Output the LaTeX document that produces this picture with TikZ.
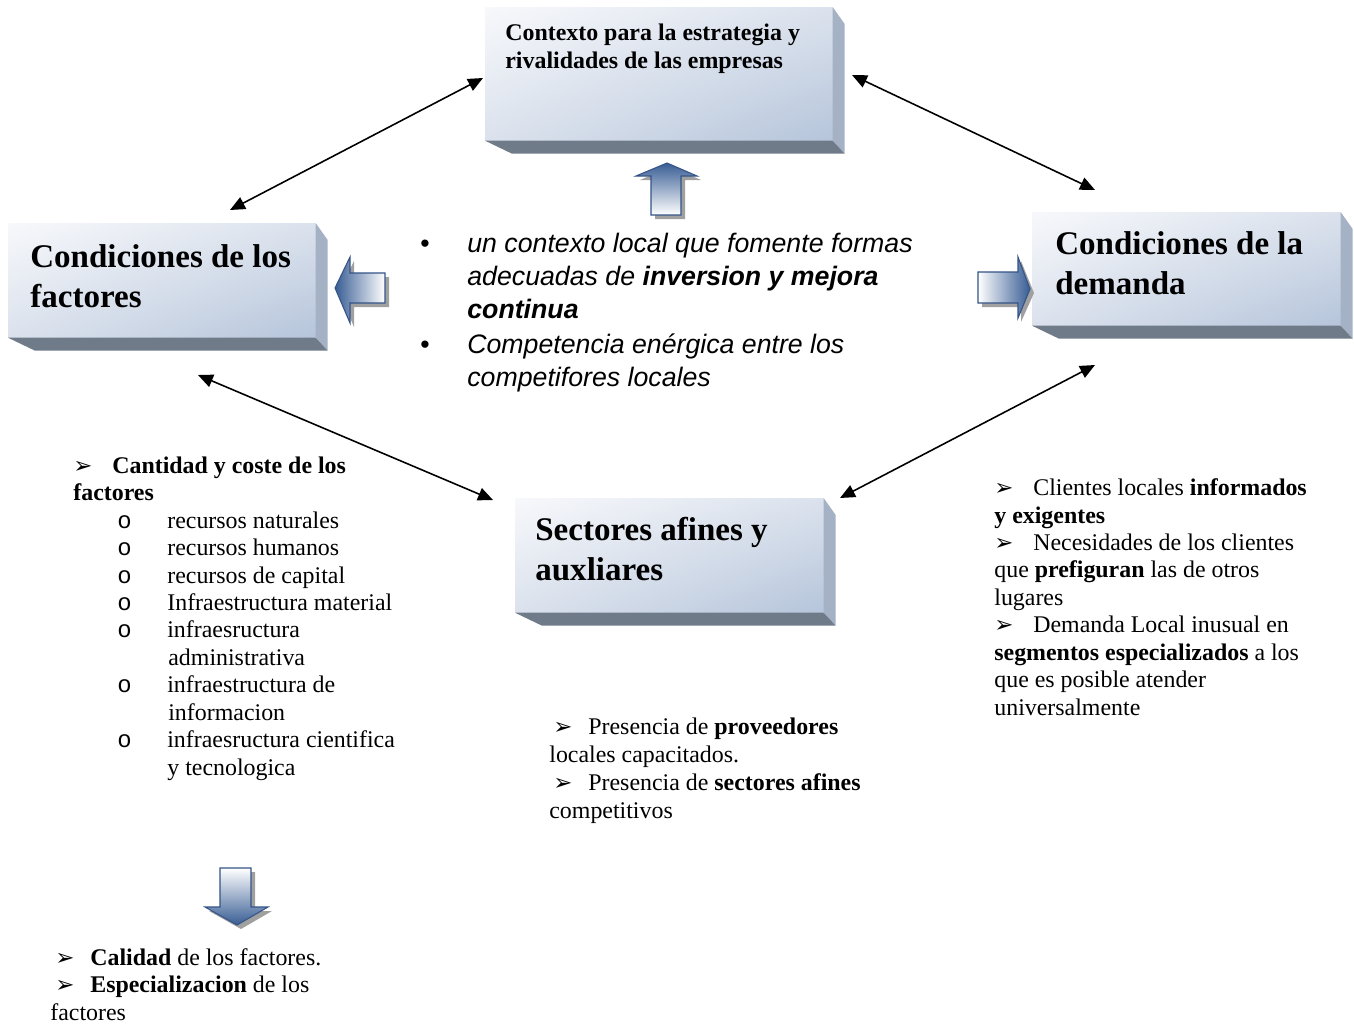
\documentclass[tikz,border=0pt]{standalone}
\usepackage{fontspec}
\setmainfont{Liberation Serif}
\setsansfont{Liberation Sans}
\setmonofont{Liberation Mono}
\newfontfamily\dejavu{DejaVu Sans}
\usetikzlibrary{arrows.meta, calc, shadings}

\definecolor{FaceLight}{RGB}{247,248,251}
\definecolor{FaceMid}{RGB}{219,226,237}
\definecolor{FaceDark}{RGB}{182,197,219}
\definecolor{SideGrey}{RGB}{165,177,196}
\definecolor{BaseGrey}{RGB}{111,123,137}
\definecolor{ArrowBlue}{RGB}{56,93,148}
\definecolor{EdgeBlue}{RGB}{52,84,135}
\definecolor{ShadowGrey}{RGB}{160,160,160}

\newlength{\pxu}
\setlength{\pxu}{0.02cm}
\newcommand{\arr}{{\dejavu\fontsize{13pt}{13pt}\selectfont ➢}}

\begin{document}
\begin{tikzpicture}[x=0.02cm, y=-0.02cm,
        facebox/.style={anchor=north west, inner sep=0pt, upper left=FaceLight, upper right=FaceMid, lower left=FaceMid, lower right=FaceDark},
        boxtitle/.style={anchor=base west, inner sep=0pt, align=left, font=\bfseries\fontsize{18.8pt}{22.4pt}\selectfont},
        smalltitle/.style={anchor=base west, inner sep=0pt, align=left, font=\bfseries\fontsize{13.6pt}{15.9pt}\selectfont},
        bodytext/.style={anchor=base west, inner sep=0pt, align=left, font=\fontsize{13.6pt}{15.6pt}\selectfont},
        slanttext/.style={anchor=base west, inner sep=0pt, align=left, font=\sffamily\itshape\fontsize{15.2pt}{18.7pt}\selectfont},
        link/.style={{Triangle[length=8.5pt,width=7.4pt]}-{Triangle[length=8.5pt,width=7.4pt]}, line width=0.9pt},
        blockarrow/.style={draw=EdgeBlue, line width=0.6pt},
        blockshadow/.style={fill=ShadowGrey}
    ]
    \fill[white] (0,0) rectangle (1354,1028);
    \useasboundingbox (0,0) rectangle (1354,1028);

    % boxes
    \node[facebox, minimum width=6.94cm, minimum height=2.66cm] (ctxbox) at (485,7) {};
    \node[facebox, minimum width=6.14cm, minimum height=2.28cm] (facbox) at (8,223) {};
    \node[facebox, minimum width=6.16cm, minimum height=2.26cm] (dembox) at (1032,212) {};
    \node[facebox, minimum width=6.16cm, minimum height=2.28cm] (secbox) at (515,498) {};
    \foreach \b in {ctxbox,facbox,dembox,secbox}{
        \fill[SideGrey] (\b.north east) -- ++(12,17) -- ($(\b.south east)+(12,13)$) -- (\b.south east) -- cycle;
        \fill[BaseGrey] (\b.south west) -- (\b.south east) -- ($(\b.south east)+(12,13)$) -- ($(\b.south west)+(27,13)$) -- cycle;
    }

    % titles (placed at the baseline of their last line)
    \node[smalltitle] (ctx) at (505,68) {Contexto para la estrategia y\\rivalidades de las empresas};
    \node[boxtitle] (fac) at (30,307) {Condiciones de los\\factores};
    \node[boxtitle] (dem) at (1055,294) {Condiciones de la\\demanda};
    \node[boxtitle] (sec) at (535,580) {Sectores afines y\\auxliares};

    % two-headed links
    \coordinate (l1a) at (230,210);
    \coordinate (l1b) at (483,78);
    \coordinate (l2a) at (852,75);
    \coordinate (l2b) at (1095,190);
    \coordinate (l3a) at (198,375);
    \coordinate (l3b) at (493,500);
    \coordinate (l4a) at (1095,365);
    \coordinate (l4b) at (840,498);
    \draw[link] (l1a) -- (l1b);
    \draw[link] (l2a) -- (l2b);
    \draw[link] (l3a) -- (l3b);
    \draw[link] (l4a) -- (l4b);

    % block arrows
    \fill[blockshadow] (655,219) -- (655,180) -- (640,180) -- (671,167) -- (701,180) -- (685,180) -- (685,219) -- cycle;
    \shade[blockarrow, top color=ArrowBlue, bottom color=white] (651,215) -- (651,176) -- (636,176) -- (667,163) -- (697,176) -- (681,176) -- (681,215) -- cycle;
    \fill[blockshadow] (389,277) -- (354,277) -- (354,261) -- (339,292) -- (354,327) -- (354,307) -- (389,307) -- cycle;
    \shade[blockarrow, left color=ArrowBlue, right color=white] (385,273) -- (350,273) -- (350,257) -- (335,288) -- (350,323) -- (350,303) -- (385,303) -- cycle;
    \fill[blockshadow] (982,276) -- (1021,276) -- (1021,261) -- (1034,293) -- (1021,322) -- (1021,307) -- (982,307) -- cycle;
    \shade[blockarrow, left color=white, right color=ArrowBlue] (978,272) -- (1018,272) -- (1018,257) -- (1030,289) -- (1018,318) -- (1018,303) -- (978,303) -- cycle;
    \fill[blockshadow] (224,872) -- (255,872) -- (255,911) -- (272,911) -- (241,929) -- (209,911) -- (224,911) -- cycle;
    \shade[blockarrow, top color=white, bottom color=ArrowBlue] (220,868) -- (251,868) -- (251,907) -- (268,907) -- (237,925) -- (205,907) -- (220,907) -- cycle;

    % texts (placed at the baseline of their last line)
    \node[slanttext] (ctxlist) at (420,386) {%
        \makebox[47\pxu][l]{\upshape •}un contexto local que fomente formas\\
        \hspace*{47\pxu}adecuadas de \textbf{inversion y mejora}\\
        \hspace*{47\pxu}\textbf{continua}\\[1pt]
        \makebox[47\pxu][l]{\upshape •}Competencia enérgica entre los\\
        \hspace*{47\pxu}competifores locales};
    \node[bodytext] (faclist) at (73,775) {%
        \makebox[39\pxu][l]{\arr}\textbf{Cantidad y coste de los}\\
        \textbf{factores}\\
        \hspace*{44\pxu}\makebox[50\pxu][l]{\ttfamily o}recursos naturales\\
        \hspace*{44\pxu}\makebox[50\pxu][l]{\ttfamily o}recursos humanos\\
        \hspace*{44\pxu}\makebox[50\pxu][l]{\ttfamily o}recursos de capital\\
        \hspace*{44\pxu}\makebox[50\pxu][l]{\ttfamily o}Infraestructura material\\
        \hspace*{44\pxu}\makebox[50\pxu][l]{\ttfamily o}infraesructura\\
        \hspace*{95\pxu}administrativa\\
        \hspace*{44\pxu}\makebox[50\pxu][l]{\ttfamily o}infraestructura de\\
        \hspace*{95\pxu}informacion\\
        \hspace*{44\pxu}\makebox[50\pxu][l]{\ttfamily o}infraesructura cientifica\\
        \hspace*{94\pxu}y tecnologica};
    \node[bodytext] (demlist) at (994,715) {%
        \makebox[39\pxu][l]{\arr}Clientes locales \textbf{informados}\\
        \textbf{y exigentes}\\
        \makebox[39\pxu][l]{\arr}Necesidades de los clientes\\
        que \textbf{prefiguran} las de otros\\
        lugares\\
        \makebox[39\pxu][l]{\arr}Demanda Local inusual en\\
        \textbf{segmentos especializados} a los\\
        que es posible atender\\
        universalmente};
    \node[bodytext, font=\fontsize{13.6pt}{15.9pt}\selectfont] (seclist) at (549,818) {%
        \hspace*{4\pxu}\makebox[35\pxu][l]{\arr}Presencia de \textbf{proveedores}\\
        locales capacitados.\\
        \hspace*{4\pxu}\makebox[35\pxu][l]{\arr}Presencia de \textbf{sectores afines}\\
        competitivos};
    \node[bodytext] (quallist) at (50,1020) {%
        \hspace*{5\pxu}\makebox[35\pxu][l]{\arr}\textbf{Calidad} de los factores.\\
        \hspace*{5\pxu}\makebox[35\pxu][l]{\arr}\textbf{Especializacion} de los\\
        factores};
\end{tikzpicture}
\end{document}
